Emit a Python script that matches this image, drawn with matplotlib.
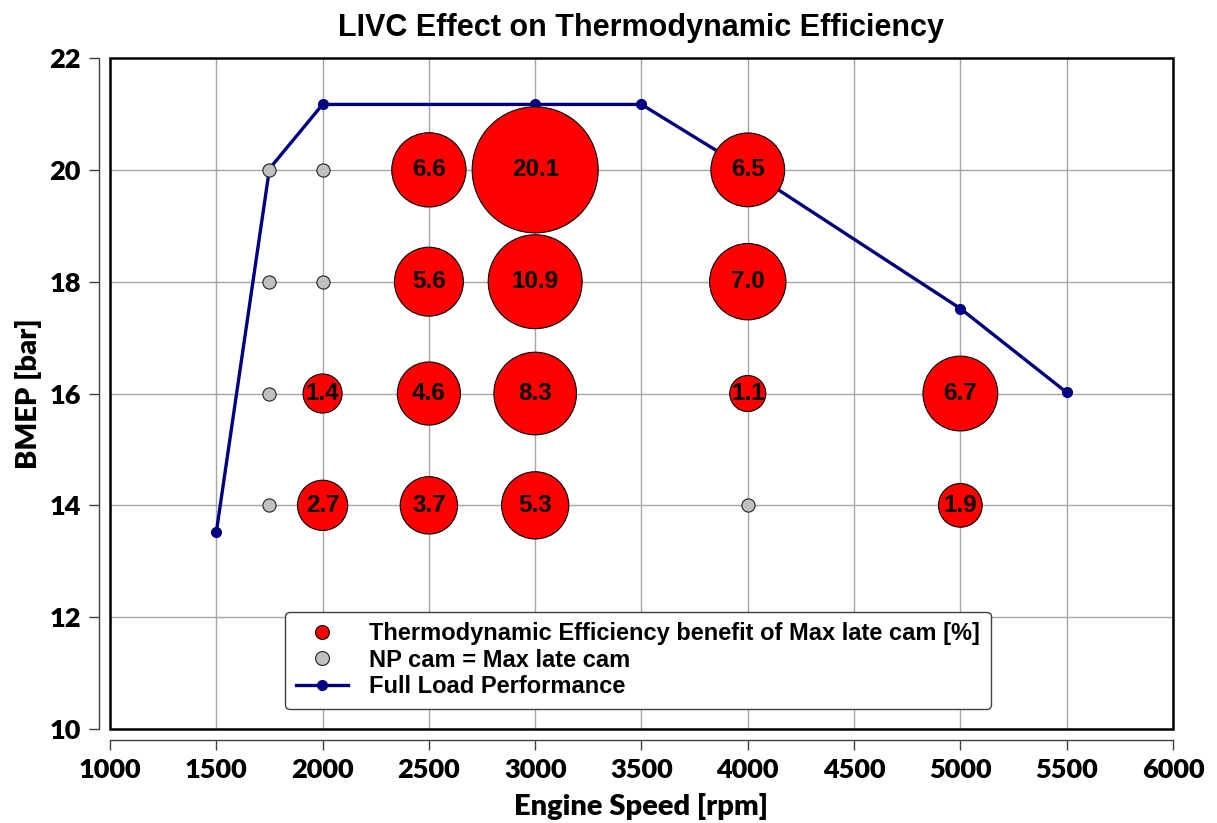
import numpy as np
import matplotlib.pyplot as plt
from matplotlib.patches import Rectangle
from matplotlib.lines import Line2D

# thermodynamic efficiency benefit of max late cam [%]
speed_red = [2000, 2000, 2500, 2500, 2500, 2500, 3000, 3000, 3000, 3000, 4000, 4000, 4000, 5000, 5000]
bmep_red = [14, 16, 14, 16, 18, 20, 14, 16, 18, 20, 16, 18, 20, 14, 16]
benefit = [2.7, 1.4, 3.7, 4.6, 5.6, 6.6, 5.3, 8.3, 10.9, 20.1, 1.1, 7.0, 6.5, 1.9, 6.7]

# points where NP cam = max late cam
speed_grey = [1750, 1750, 1750, 1750, 2000, 2000, 4000]
bmep_grey = [14, 16, 18, 20, 18, 20, 14]

# full load curve
speed_fl = [1500, 1750, 2000, 3000, 3500, 4000, 5000, 5500]
bmep_fl = [13.52, 20.02, 21.17, 21.17, 21.17, 20.0, 17.52, 16.02]

xticks = [1000, 1500, 2000, 2500, 3000, 3500, 4000, 4500, 5000, 5500, 6000]
yticks = [10, 12, 14, 16, 18, 20, 22]

bold_sans = ['Liberation Sans', 'DejaVu Sans']
tick_font = ['Lato', 'DejaVu Sans']

fig = plt.figure(figsize=(12.17, 8.23), dpi=100)
ax = fig.add_axes([0.0904, 0.1142, 0.8734, 0.8153])

ax.set_xlim(1000, 6000)
ax.set_ylim(10, 22)
ax.set_xticks(xticks)
ax.set_yticks(yticks)
ax.grid(True, color='#a6a6a6', lw=1.0, zorder=0)
ax.set_axisbelow(True)

# full load line under the bubbles
ax.plot(speed_fl, bmep_fl, color='#000080', lw=2.4, marker='o', ms=7, zorder=2)

# bubble area grows with the benefit value
sizes = [398 * v + 234 for v in benefit]
ax.scatter(speed_red, bmep_red, s=sizes, c='#ff0000', edgecolors='black', linewidths=0.8, zorder=3)
ax.scatter(speed_grey, bmep_grey, s=90, c='#c0c0c0', edgecolors='#222222', linewidths=0.8, zorder=3)

for x, y, v in zip(speed_red, bmep_red, benefit):
    ax.text(x, y, f'{v:.1f}', ha='center', va='center', fontsize=17.5, fontweight='bold',
            family=bold_sans, zorder=4)

# black frame round the plot area, axis lines pushed outward
ax.add_patch(Rectangle((0, 0), 1, 1, transform=ax.transAxes, fill=False, ec='black',
                       lw=1.8, clip_on=False, zorder=5))
for side in ['top', 'right']:
    ax.spines[side].set_visible(False)
for side in ['left', 'bottom']:
    ax.spines[side].set_position(('outward', 8))
    ax.spines[side].set_color('#404040')
    ax.spines[side].set_linewidth(1.0)
ax.tick_params(direction='out', length=7, width=1.0, color='#404040', pad=6)
for lab in ax.get_xticklabels() + ax.get_yticklabels():
    lab.set_family(tick_font)
    lab.set_fontweight(800)
    lab.set_fontsize(19.5)

ax.set_xlabel('Engine Speed [rpm]', fontsize=21, fontweight=800, family=tick_font, labelpad=8)
ax.set_ylabel('BMEP [bar]', fontsize=21, fontweight=800, family=tick_font, labelpad=5)
ax.set_title('LIVC Effect on Thermodynamic Efficiency', fontsize=22, fontweight='bold',
             family=bold_sans, pad=16)

handles = [
    Line2D([], [], ls='none', marker='o', ms=10, mfc='#ff0000', mec='black', mew=0.8),
    Line2D([], [], ls='none', marker='o', ms=10, mfc='#c0c0c0', mec='#222222', mew=0.8),
    Line2D([], [], color='#000080', lw=2.4, marker='o', ms=7),
]
labels = ['Thermodynamic Efficiency benefit of Max late cam [%]',
          'NP cam = Max late cam',
          'Full Load Performance']
leg = ax.legend(handles, labels, loc='lower left', bbox_to_anchor=(0.165, 0.03),
                prop={'family': bold_sans, 'weight': 'bold', 'size': 17},
                frameon=True, fancybox=True, framealpha=1, edgecolor='#404040',
                handlelength=2.2, handletextpad=0.9, labelspacing=0.15, borderpad=0.45,
                borderaxespad=0)
leg.get_frame().set_linewidth(1.0)
leg.set_zorder(6)

fig.savefig('out.png', dpi=100)
